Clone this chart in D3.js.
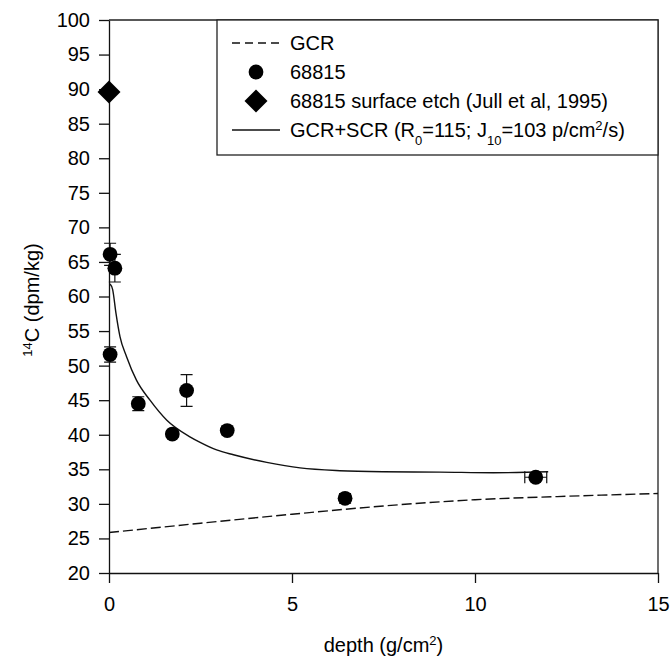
<!DOCTYPE html>
<html>
<head>
<meta charset="utf-8">
<script src="https://cdn.jsdelivr.net/npm/d3@7"></script>
<style>
  body { margin: 0; background: #fff; }
  svg { display: block; font-family: 'Liberation Sans', Arial, sans-serif; }
  .axis text { font-size: 20px; fill: #000; }
  .axis line, .axis path { stroke: #111; stroke-width: 1.3px; }
</style>
</head>
<body>
<script>
// ---- data ----
const sampleDepth = [0.03, 0.16, 0.03, 0.8, 1.73, 2.12, 3.23, 6.45, 11.66]
const sampleC14 = [66.1, 64.1, 51.6, 44.5, 40.1, 46.4, 40.6, 30.8, 33.85]
const sampleC14Err = [1.6, 2.0, 1.1, 1.0, 0.5, 2.3, 0.6, 0.7, 0.5]
const sampleDepthErr = [0, 0, 0, 0, 0, 0, 0, 0, 0.3]

const etchDepth = [0]
const etchC14 = [89.6]

const gcrDepth = [0, 2.5, 5, 7.5, 10, 12.5, 15]
const gcrC14 = [25.85, 27.2, 28.5, 29.7, 30.6, 31.1, 31.5]

const scrDepth = [0.03, 0.1, 0.19, 0.3, 0.48, 0.75, 1.12, 1.58, 2.21, 2.49, 2.94, 3.4, 4.31, 5.22, 6.31, 7.5, 9.04, 10.5, 12.0]
const scrC14 = [61.8, 61.0, 57.6, 54.2, 51.3, 47.9, 45.0, 42.1, 39.7, 38.9, 37.8, 37.1, 36.0, 35.2, 34.8, 34.65, 34.6, 34.5, 34.65]

const xTicks = [0, 5, 10, 15]
const yTicks = [20, 25, 30, 35, 40, 45, 50, 55, 60, 65, 70, 75, 80, 85, 90, 95, 100]

const W = 670
const H = 659
const plot = { left: 109, right: 658, top: 20, bottom: 573 }

const svg = d3.select('body').append('svg')
  .attr('width', W)
  .attr('height', H)

const x = d3.scaleLinear().domain([0, 15]).range([plot.left, plot.right])
const y = d3.scaleLinear().domain([20, 100]).range([plot.bottom, plot.top])

// axes
svg.append('g')
  .classed('axis', true)
  .attr('transform', `translate(0,${plot.bottom})`)
  .call(d3.axisBottom(x).tickValues(xTicks).tickSize(10).tickSizeOuter(0).tickPadding(14))

svg.append('g')
  .classed('axis', true)
  .attr('transform', `translate(${plot.left},0)`)
  .call(d3.axisLeft(y).tickValues(yTicks).tickSize(10).tickSizeOuter(0).tickPadding(9))

// frame top + right
svg.append('path')
  .attr('d', `M${plot.left},${plot.top}H${plot.right}V${plot.bottom}`)
  .attr('fill', 'none')
  .attr('stroke', '#222')
  .attr('stroke-width', 1.3)

// axis titles
const xTitle = svg.append('text')
  .attr('x', (plot.left + plot.right) / 2)
  .attr('y', 652)
  .attr('text-anchor', 'middle')
  .style('font-size', '20px')
xTitle.append('tspan').text('depth (g/cm')
xTitle.append('tspan').attr('baseline-shift', 'super').style('font-size', '13px').text('2')
xTitle.append('tspan').text(')')

const yTitle = svg.append('text')
  .attr('transform', 'translate(39,300) rotate(-90)')
  .attr('text-anchor', 'middle')
  .style('font-size', '20px')
yTitle.append('tspan').attr('baseline-shift', 'super').style('font-size', '13px').text('14')
yTitle.append('tspan').text('C (dpm/kg)')

// curves
const line = d3.line()
  .x(d => x(d[0]))
  .y(d => y(d[1]))
  .curve(d3.curveMonotoneX)

svg.append('path')
  .attr('d', line(d3.zip(gcrDepth, gcrC14)))
  .attr('fill', 'none')
  .attr('stroke', '#111')
  .attr('stroke-width', 1.4)
  .attr('stroke-dasharray', '10,4')

svg.append('path')
  .attr('d', line(d3.zip(scrDepth, scrC14)))
  .attr('fill', 'none')
  .attr('stroke', '#111')
  .attr('stroke-width', 1.4)

// error bars
const samples = d3.zip(sampleDepth, sampleC14, sampleC14Err, sampleDepthErr)
const CAP = 6
const bars = svg.append('g')
  .attr('stroke', '#111')
  .attr('stroke-width', 1.2)
  .attr('fill', 'none')

bars.selectAll('path.yerr')
  .data(samples.filter(d => d[2] > 0))
  .join('path')
  .classed('yerr', true)
  .attr('d', ([dx, dy, ey]) => {
    const cx = x(dx), t = y(dy + ey), b = y(dy - ey)
    return `M${cx},${t}V${b}M${cx - CAP},${t}H${cx + CAP}M${cx - CAP},${b}H${cx + CAP}`
  })

bars.selectAll('path.xerr')
  .data(samples.filter(d => d[3] > 0))
  .join('path')
  .classed('xerr', true)
  .attr('d', ([dx, dy, , ex]) => {
    const cy = y(dy), l = x(dx - ex), r = x(dx + ex)
    return `M${l},${cy}H${r}M${l},${cy - CAP}V${cy + CAP}M${r},${cy - CAP}V${cy + CAP}`
  })

// points
svg.append('g')
  .selectAll('circle')
  .data(samples)
  .join('circle')
  .attr('cx', d => x(d[0]))
  .attr('cy', d => y(d[1]))
  .attr('r', 7.4)
  .attr('fill', '#000')

const diamond = s => `M0,${-s}L${s},0L0,${s}L${-s},0Z`

svg.append('g')
  .selectAll('path')
  .data(d3.zip(etchDepth, etchC14))
  .join('path')
  .attr('transform', d => `translate(${x(d[0])},${y(d[1])})`)
  .attr('d', diamond(11.5))
  .attr('fill', '#000')

// legend
const legend = svg.append('g')

legend.append('rect')
  .attr('x', 217)
  .attr('y', plot.top)
  .attr('width', plot.right - 217)
  .attr('height', 135)
  .attr('fill', '#fff')
  .attr('stroke', '#222')
  .attr('stroke-width', 1.3)

const rowY = [43, 72, 101, 130]
const symX = 256
const textX = 290

legend.append('line')
  .attr('x1', 232).attr('x2', 280)
  .attr('y1', rowY[0]).attr('y2', rowY[0])
  .attr('stroke', '#111').attr('stroke-width', 1.3)
  .attr('stroke-dasharray', '8,5')

legend.append('circle')
  .attr('cx', symX).attr('cy', rowY[1]).attr('r', 7.4)
  .attr('fill', '#000')

legend.append('path')
  .attr('transform', `translate(${symX},${rowY[2]})`)
  .attr('d', diamond(11.5))
  .attr('fill', '#000')

legend.append('line')
  .attr('x1', 232).attr('x2', 280)
  .attr('y1', rowY[3]).attr('y2', rowY[3])
  .attr('stroke', '#111').attr('stroke-width', 1.3)

const addLabel = (row, parts) => {
  const t = legend.append('text')
    .attr('x', textX)
    .attr('y', rowY[row] + 7)
    .style('font-size', '20px')
  parts.forEach(([txt, shift]) => {
    const s = t.append('tspan').text(txt)
    if (shift) s.attr('baseline-shift', shift).style('font-size', '13px')
  })
}

addLabel(0, [['GCR']])
addLabel(1, [['68815']])
addLabel(2, [['68815 surface etch (Jull et al, 1995)']])
addLabel(3, [
  ['GCR+SCR (R'], ['0', 'sub'], ['=115; J'], ['10', 'sub'],
  ['=103 p/cm'], ['2', 'super'], ['/s)'],
])
</script>
</body>
</html>
